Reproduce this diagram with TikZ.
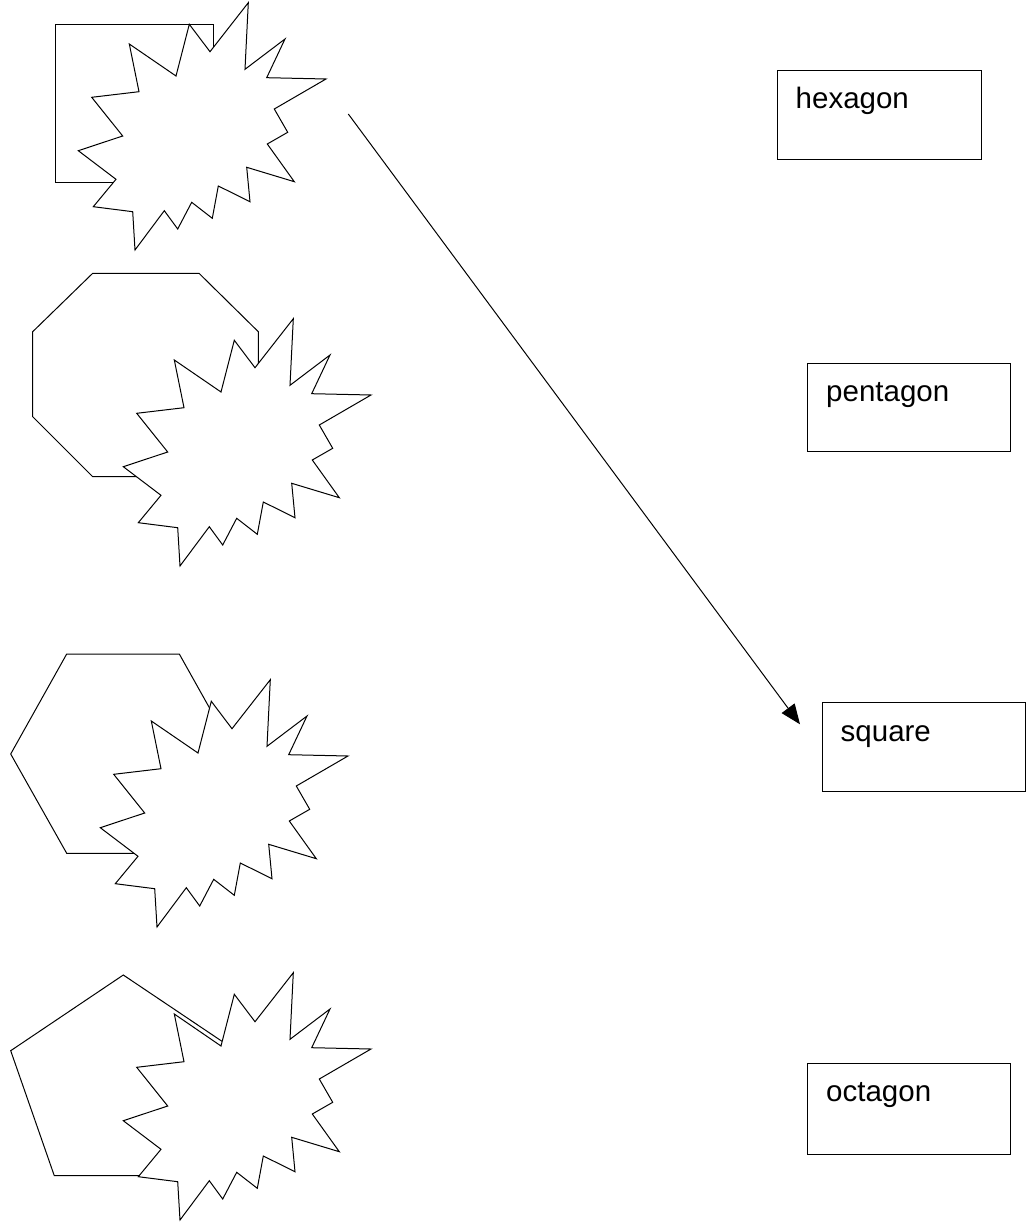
\documentclass[tikz,border=0pt]{standalone}
\usepackage{fontspec}
\setmainfont{Liberation Sans}
\usetikzlibrary{arrows.meta}
\newcommand\burstpath{(248.3,2.7) -- (245,69.3) -- (285,39) -- (266.7,77.7) -- (326,79) -- (274.3,109) -- (287.7,132.3) -- (267.3,144) -- (294.3,181.7) -- (246.7,167.3) -- (250,201.7) -- (218.3,186) -- (212.3,218.3) -- (191.7,202.3) -- (177.7,229) -- (164.3,210.7) -- (135,250) -- (132.7,211.7) -- (93.3,206.7) -- (116,179.3) -- (78.3,150.7) -- (122.7,136) -- (91.7,97.3) -- (139,91.7) -- (129.3,44) -- (176,76) -- (189.3,24.3) -- (210,51.7) -- cycle}
\tikzset{
  outline/.style={draw=black, line width=1pt, line join=miter},
  burst/.style={outline, fill=white},
  labelbox/.style={draw=black, line width=1pt, rectangle, inner sep=0pt},
  labeltext/.style={anchor=base west, inner sep=0pt, font=\fontsize{29.5}{34}\selectfont},
  link/.style={draw=black, line width=1pt, -{Triangle[length=20pt,width=16pt]}}
}
\begin{document}
\begin{tikzpicture}[x=1pt,y=-1pt]
\useasboundingbox (0,0) rectangle (1032,1222);
% left column shapes
\draw[outline] (55,24.3) rectangle (213.3,182.7);
\draw[burst] \burstpath;
\draw[outline] (92.7,273.3) -- (199,273.3) -- (258.3,331.7) -- (258.3,416.7) -- (199,476.7) -- (92.7,476.7) -- (32.7,416.7) -- (32.7,331.7) -- cycle;
\draw[burst, shift={(45,316)}] \burstpath;
\draw[outline] (66.7,654) -- (179.3,654) -- (235.3,754) -- (179.3,853.3) -- (66.7,853.3) -- (10.7,754) -- cycle;
\draw[burst, shift={(22,677)}] \burstpath;
\draw[outline] (123.3,975) -- (236,1050.7) -- (192.3,1175.7) -- (54.3,1175.7) -- (10.7,1050.7) -- cycle;
\draw[burst, shift={(45,970)}] \burstpath;
% right column boxes
\node[labelbox, minimum width=204pt, minimum height=89pt] (bhex) at (879,115.5) {};
\node[labeltext] (thex) at (795.5,108.3) {hexagon};
\node[labelbox, minimum width=203.4pt, minimum height=88.4pt] (bpent) at (909,407.5) {};
\node[labeltext] (tpent) at (826,401.7) {pentagon};
\node[labelbox, minimum width=203.4pt, minimum height=89.4pt] (bsq) at (924,747) {};
\node[labeltext] (tsq) at (840.5,741) {square};
\node[labelbox, minimum width=203.4pt, minimum height=91pt] (boct) at (909,1108.5) {};
\node[labeltext] (toct) at (826,1101) {octagon};
% arrow
\coordinate (astart) at (348.3,114);
\coordinate (aend) at (800,724.3);
\draw[link] (astart) -- (aend);
\end{tikzpicture}
\end{document}
